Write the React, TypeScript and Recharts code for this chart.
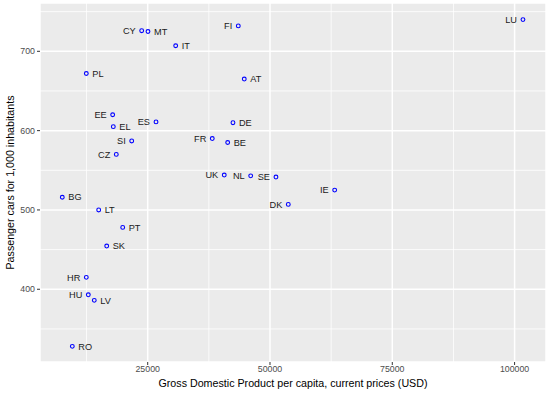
import { ScatterChart, Scatter, XAxis, YAxis, CartesianGrid, ReferenceLine, Label } from "recharts";

const countries = ["CY", "MT", "IT", "FI", "PL", "AT", "EE", "EL", "ES", "DE", "SI", "FR", "BE", "CZ", "UK", "NL", "SE", "BG", "LU", "IE", "LT", "PT", "SK", "HR", "HU", "LV", "RO", "DK"];
const gdp = [23770, 25060, 30720, 43520, 12450, 44740, 17840, 17970, 26700, 42430, 21730, 38200, 41350, 18580, 40650, 46050, 51220, 7540, 101710, 63220, 14980, 19890, 16620, 12450, 12860, 14080, 9590, 53740];
const cars = [726, 725, 707, 732, 672, 665, 620, 605, 611, 610, 587, 590, 585, 570, 544, 543, 541.5, 516, 740, 525, 500, 478, 454.5, 415, 393, 386, 328, 507];
const leftLabelled = ["CY", "FI", "EE", "ES", "SI", "FR", "CZ", "UK", "NL", "SE", "HR", "HU", "LU", "IE", "DK"];

const xTicks = [25000, 50000, 75000, 100000];
const xMinor = [12500, 37500, 62500, 87500];
const yTicks = [400, 500, 600, 700];
const yMinor = [350, 450, 550, 650, 750];

const data = countries.map((name, i) => ({ name, gdp: gdp[i], cars: cars[i] }));

const FONT = "'Liberation Sans', Arial, Helvetica, sans-serif";

const PointWithLabel = (props: any) => {
  const { cx, cy, payload } = props;
  const left = leftLabelled.includes(payload.name);
  return (
    <g>
      <circle cx={cx} cy={cy} r={1.9} fill='none' stroke='#0000FF' strokeWidth={1.1} />
      <text
        x={left ? cx - 6 : cx + 6}
        y={cy}
        dy='0.35em'
        textAnchor={left ? "end" : "start"}
        fontSize={9.2}
        fontFamily={FONT}
        fill='#1a1a1a'
      >
        {payload.name}
      </text>
    </g>
  );
};

export default function App() {
  return (
    <div style={{ position: "absolute", left: 0, top: 0, width: 550, height: 393, background: "#fff" }}>
      <ScatterChart width={550} height={393} margin={{ top: 3, right: 4, bottom: 0, left: 0 }}>
        <CartesianGrid fill='#EBEBEB' fillOpacity={1} stroke='#FFFFFF' strokeWidth={1.5} />
        {xMinor.map((v) => (
          <ReferenceLine key={`vx-${v}`} x={v} stroke='#FFFFFF' strokeWidth={0.8} />
        ))}
        {yMinor.map((v) => (
          <ReferenceLine key={`hy-${v}`} y={v} stroke='#FFFFFF' strokeWidth={0.8} />
        ))}
        <XAxis
          type='number'
          dataKey='gdp'
          domain={[2985, 106420]}
          allowDataOverflow
          ticks={xTicks}
          height={31}
          axisLine={false}
          tickSize={3}
          tickMargin={1}
          tickLine={{ stroke: "#333333" }}
          tick={{ fill: "#4D4D4D", fontSize: 8.8, fontFamily: FONT }}
        >
          <Label
            content={({ viewBox }: any) => (
              <text
                x={viewBox.x + viewBox.width / 2}
                y={viewBox.y + 24.7}
                textAnchor='middle'
                fontSize={10.7}
                fontFamily={FONT}
                fill='#000'
              >
                Gross Domestic Product per capita, current prices (USD)
              </text>
            )}
          />
        </XAxis>
        <YAxis
          type='number'
          dataKey='cars'
          domain={[308.3, 760.9]}
          allowDataOverflow
          ticks={yTicks}
          width={40}
          axisLine={false}
          tickSize={3}
          tickMargin={2}
          tickLine={{ stroke: "#333333" }}
          tick={{ fill: "#4D4D4D", fontSize: 8.8, fontFamily: FONT }}
        >
          <Label
            content={({ viewBox }: any) => {
              const x = 14;
              const y = viewBox.y + viewBox.height / 2;
              return (
                <text
                  x={x}
                  y={y}
                  transform={`rotate(-90, ${x}, ${y})`}
                  textAnchor='middle'
                  fontSize={10.7}
                  fontFamily={FONT}
                  fill='#000'
                >
                  Passenger cars for 1,000 inhabitants
                </text>
              );
            }}
          />
        </YAxis>
        <Scatter data={data} isAnimationActive={false} shape={PointWithLabel} />
      </ScatterChart>
    </div>
  );
}
